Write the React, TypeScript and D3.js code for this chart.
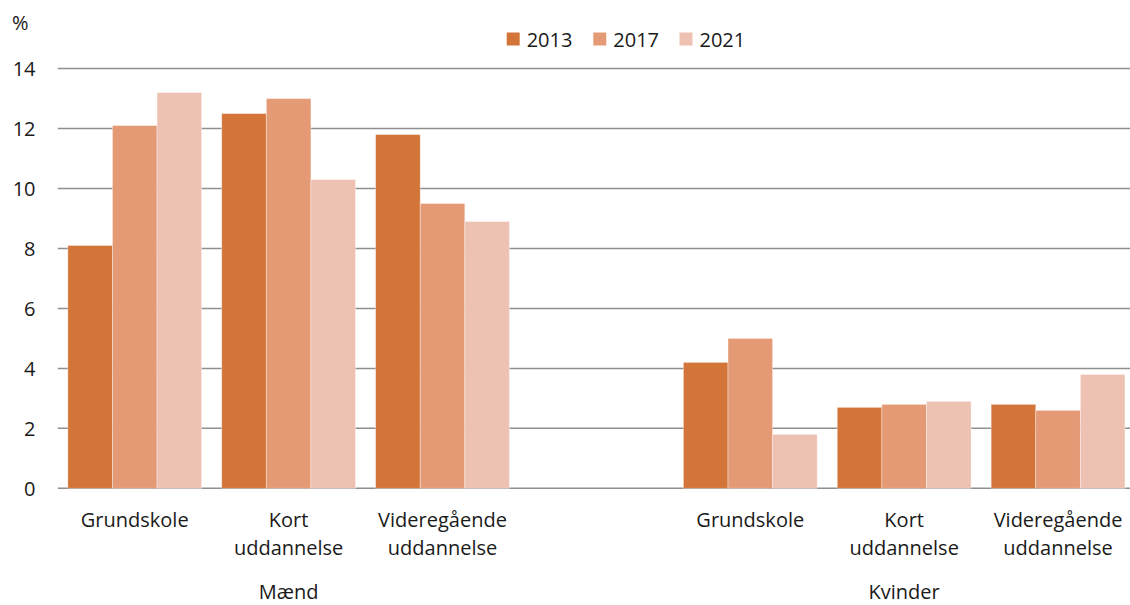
import React from "react";
import * as d3 from "d3";

const genders = ["Mænd", "Kvinder"];
const educations = ["Grundskole", "Kort uddannelse", "Videregående uddannelse"];
const years = ["2013", "2017", "2021"];
const values2013 = [8.1, 12.5, 11.8, 4.2, 2.7, 2.8];
const values2017 = [12.1, 13.0, 9.5, 5.0, 2.8, 2.6];
const values2021 = [13.2, 10.3, 8.9, 1.8, 2.9, 3.8];
const yTicks = [0, 2, 4, 6, 8, 10, 12, 14];
const colors = ["#D37538", "#E59A76", "#EEC2B2"];

const W = 1130;
const H = 605;
const FONT = "'Open Sans', sans-serif";

export default function App() {
  const series = [values2013, values2017, values2021];
  const slots: string[] = [];
  educations.forEach((e) => slots.push(`${genders[0]}|${e}`));
  slots.push("blank");
  educations.forEach((e) => slots.push(`${genders[1]}|${e}`));

  const x = d3.scaleBand<string>().domain(slots).range([57.8, 1135]).padding(0);
  const xi = d3
    .scaleBand<string>()
    .domain(years)
    .range([0, x.bandwidth()])
    .paddingInner(0)
    .paddingOuter(0.225);
  const y = d3.scaleLinear().domain([0, 14]).range([488.3, 68.6]);

  const catKey = (gi: number, ei: number) => `${genders[gi]}|${educations[ei]}`;

  const bars: JSX.Element[] = [];
  genders.forEach((g, gi) => {
    educations.forEach((e, ei) => {
      const idx = gi * educations.length + ei;
      years.forEach((yr, si) => {
        const v = series[si][idx];
        const bx = (x(catKey(gi, ei)) as number) + (xi(yr) as number);
        bars.push(
          <rect
            key={`${g}-${e}-${yr}`}
            x={bx}
            y={y(v)}
            width={xi.bandwidth()}
            height={y(0) - y(v)}
            fill={colors[si]}
            stroke="#ffffff"
            strokeOpacity={0.45}
            strokeWidth={0.8}
          />
        );
      });
    });
  });

  const legendX = [506.7, 593.3, 679.5];

  return (
    <svg
      width={W}
      height={H}
      style={{ position: "absolute", left: 0, top: 0, fontFamily: FONT }}
    >
      <rect x={0} y={0} width={W} height={H} fill="#ffffff" />
      {yTicks.map((t) => (
        <g key={t}>
          <line x1={57.8} x2={1135} y1={y(t)} y2={y(t)} stroke="#8f8f8f" strokeWidth={1.5} />
          <text x={35.5} y={y(t) + 7.5} textAnchor="end" fontSize={20} fill="#1a1a1a">
            {t}
          </text>
        </g>
      ))}
      <text x={12} y={29.5} fontSize={20} fill="#1a1a1a">
        %
      </text>
      {bars}
      {genders.map((g, gi) =>
        educations.map((e, ei) => {
          const cx = (x(catKey(gi, ei)) as number) + x.bandwidth() / 2;
          const lines = e.split(" ");
          return (
            <text key={`${g}-${e}-lbl`} x={cx} textAnchor="middle" fontSize={20} fill="#1a1a1a">
              {lines.map((l, li) => (
                <tspan key={li} x={cx} y={526.5 + li * 28.8}>
                  {l}
                </tspan>
              ))}
            </text>
          );
        })
      )}
      {genders.map((g, gi) => {
        const cx = (x(catKey(gi, 1)) as number) + x.bandwidth() / 2;
        return (
          <text key={g} x={cx} y={599} textAnchor="middle" fontSize={20} fill="#1a1a1a">
            {g}
          </text>
        );
      })}
      {years.map((yr, si) => (
        <g key={yr}>
          <rect x={legendX[si]} y={32.5} width={13} height={13} fill={colors[si]} />
          <text x={legendX[si] + 20} y={46.5} fontSize={20} fill="#1a1a1a">
            {yr}
          </text>
        </g>
      ))}
    </svg>
  );
}
